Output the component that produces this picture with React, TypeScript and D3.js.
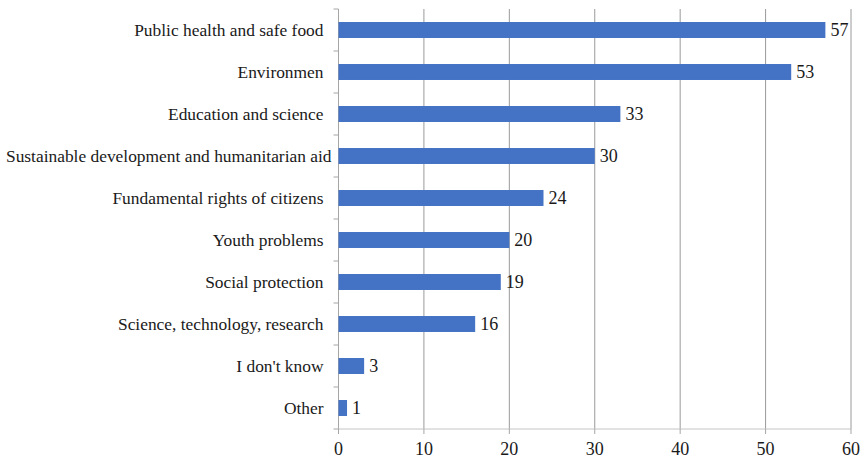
import React from "react";
import * as d3 from "d3";

const categories = [
  "Public health and safe food",
  "Environmen",
  "Education and science",
  "Sustainable development and humanitarian aid",
  "Fundamental rights of citizens",
  "Youth problems",
  "Social protection",
  "Science, technology, research",
  "I don't know",
  "Other",
];
const values = [57, 53, 33, 30, 24, 20, 19, 16, 3, 1];
const xTicks = [0, 10, 20, 30, 40, 50, 60];

const W = 862;
const H = 459;
const left = 338.5;
const right = 851;
const top = 9;
const bottom = 429;
const font = "'Liberation Serif', 'Times New Roman', serif";
const labelSize = 17.4;

// Width of a category label, used to keep long labels inside the left edge.
function textWidth(s: string, size: number): number {
  const ctx = document.createElement("canvas").getContext("2d");
  if (!ctx) return s.length * size * 0.45;
  ctx.font = `${size}px 'Liberation Serif'`;
  return ctx.measureText(s).width;
}

export default function App() {
  const x = d3.scaleLinear().domain([0, 60]).range([left, right]);
  const y = d3.scaleBand<string>().domain(categories).range([top, bottom]).paddingInner(0.62).paddingOuter(0.31);
  const band = d3.scaleBand<string>().domain(categories).range([top, bottom]);

  return (
    <svg width={W} height={H} style={{ position: "absolute", left: 0, top: 0, background: "#fff" }}>
      {xTicks.slice(1).map((t) => (
        <line key={t} x1={x(t)} x2={x(t)} y1={top} y2={bottom} stroke="#9a9a9a" strokeWidth={1} />
      ))}
      <line x1={left} x2={left} y1={top} y2={bottom} stroke="#a6a6a6" />
      <line x1={left} x2={right} y1={bottom} y2={bottom} stroke="#c4c4c4" />
      {categories.map((c) => (
        <line key={c} x1={left - 5} x2={left} y1={band(c)!} y2={band(c)!} stroke="#a6a6a6" />
      ))}
      <line x1={left - 5} x2={left} y1={bottom} y2={bottom} stroke="#a6a6a6" />
      {xTicks.map((t) => (
        <line key={"t" + t} x1={x(t)} x2={x(t)} y1={bottom} y2={bottom + 5} stroke="#a6a6a6" />
      ))}
      {categories.map((c, i) => {
        const w = textWidth(c, labelSize);
        const lx = Math.max(left - 15, 6 + w);
        return (
          <g key={c}>
            <rect x={x(0)} y={y(c)!} width={x(values[i]) - x(0)} height={y.bandwidth()} fill="#4472C4" />
            <text x={x(values[i]) + 5} y={y(c)! + y.bandwidth() / 2} dy="0.36em" fontFamily={font} fontSize={18} fill="#1a1a1a">
              {values[i]}
            </text>
            <text x={lx} y={band(c)! + band.bandwidth() / 2} dy="0.36em" textAnchor="end" fontFamily={font} fontSize={labelSize} fill="#1a1a1a">
              {c}
            </text>
          </g>
        );
      })}
      {xTicks.map((t) => (
        <text key={"l" + t} x={x(t)} y={449} dy="0.36em" textAnchor="middle" fontFamily={font} fontSize={18} fill="#1a1a1a">
          {t}
        </text>
      ))}
    </svg>
  );
}
